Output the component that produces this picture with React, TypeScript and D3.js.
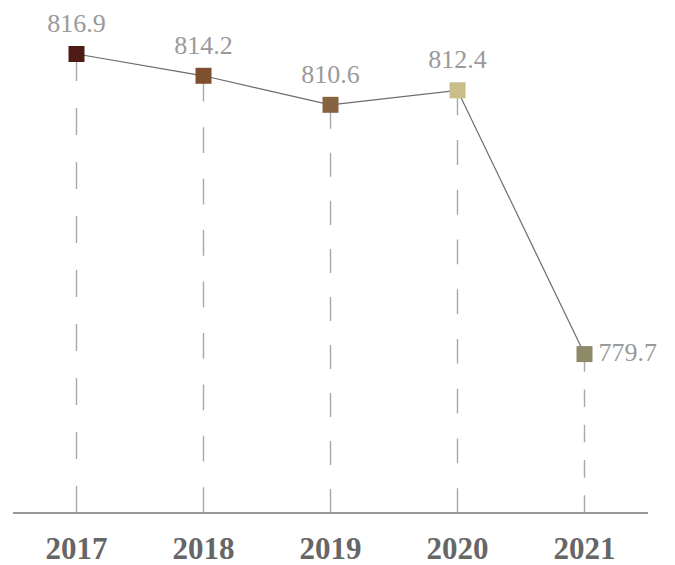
import React from "react";
import * as d3 from "d3";

const years = ["2017", "2018", "2019", "2020", "2021"];
const values = [816.9, 814.2, 810.6, 812.4, 779.7];
const markerColors = ["#4f1c15", "#7d4f2e", "#866442", "#c9bd89", "#8d8a69"];

const W = 675;
const H = 565;

const App = () => {
  const margin = { top: 29, right: 27, bottom: 52, left: 13 };
  const axisY = H - margin.bottom;

  const x = d3
    .scalePoint<string>()
    .domain(years)
    .range([margin.left, W - margin.right])
    .padding(0.5);

  const y = d3.scaleLinear().domain([760, 820]).range([axisY, margin.top]);

  const line = d3
    .line<number>()
    .x((d, i) => x(years[i]) as number)
    .y((d) => y(d));

  const serif = "'Liberation Serif', 'Times New Roman', serif";

  return (
    <svg
      width={W}
      height={H}
      style={{ position: "absolute", left: 0, top: 0, background: "#fff" }}
      fontFamily={serif}
    >
      {/* dashed drop lines, dash pattern starting at the axis */}
      {values.map((v, i) => {
        const cx = x(years[i]) as number;
        const len = axisY - y(v);
        const segs = len > 200 ? 17 : 9;
        const dash = len / segs;
        return (
          <line
            key={"drop" + i}
            x1={cx}
            x2={cx}
            y1={axisY}
            y2={y(v)}
            stroke="#a8a8a8"
            strokeWidth={1.4}
            strokeDasharray={`${dash} ${dash}`}
          />
        );
      })}

      {/* axis */}
      <line x1={margin.left} x2={W - margin.right + 0} y1={axisY} y2={axisY} stroke="#999" strokeWidth={2} />

      {/* connecting line */}
      <path d={line(values) || ""} fill="none" stroke="#6b6b6b" strokeWidth={1.2} />

      {/* markers */}
      {values.map((v, i) => (
        <rect
          key={"m" + i}
          x={(x(years[i]) as number) - 8}
          y={y(v) - 8}
          width={16}
          height={16}
          fill={markerColors[i]}
        />
      ))}

      {/* value labels */}
      {values.map((v, i) => {
        const last = i === values.length - 1;
        return (
          <text
            key={"v" + i}
            x={last ? (x(years[i]) as number) + 14 : (x(years[i]) as number)}
            y={last ? y(v) + 7 : y(v) - 22}
            textAnchor={last ? "start" : "middle"}
            fontSize={26}
            fill="#9a9a9a"
          >
            {v.toFixed(1)}
          </text>
        );
      })}

      {/* year labels */}
      {years.map((yr) => (
        <text
          key={yr}
          x={x(yr) as number}
          y={axisY + 46}
          textAnchor="middle"
          fontSize={31}
          fontWeight="bold"
          fill="#666"
        >
          {yr}
        </text>
      ))}
    </svg>
  );
};

export default App;
